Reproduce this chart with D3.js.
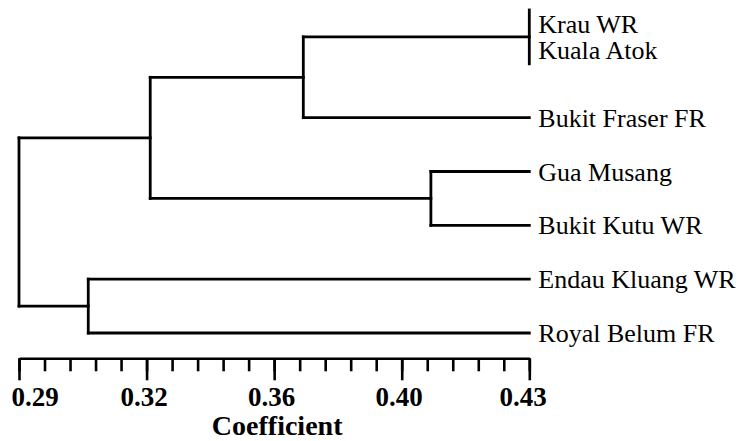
<!DOCTYPE html>
<html>
<head>
<meta charset="utf-8">
<script src="https://cdn.jsdelivr.net/npm/d3@7"></script>
<style>
    body { margin: 0; background: #fff; }
    svg { display: block; }
    text { font-family: "Liberation Serif", "Times New Roman", serif; fill: #000; }
</style>
</head>
<body>
<div id="chart"></div>
<script>
// leaves, top to bottom
var leaves = ["Krau WR", "Kuala Atok", "Bukit Fraser FR", "Gua Musang",
              "Bukit Kutu WR", "Endau Kluang WR", "Royal Belum FR"];
var leafCoef = 0.43;

// merge steps (like an hclust merge table): left, right, coefficient
var mergeLeft  = ["Krau WR",    "Gua Musang",    "Endau Kluang WR", "m1",              "m4",    "m5"];
var mergeRight = ["Kuala Atok", "Bukit Kutu WR", "Royal Belum FR",  "Bukit Fraser FR", "m2",    "m3"];
var mergeCoef  = [0.43,         0.403,           0.309,             0.368,             0.326,   0.29];

// axis
var axisMin = 0.29, axisMax = 0.43;
var majorTicks = [0.29, 0.325, 0.36, 0.395, 0.43];
var tickLabels = ["0.29", "0.32", "0.36", "0.40", "0.43"];
var minorStep = 0.007;
var xtitle = "Coefficient";

(function() {
    'use strict';

    var width = 740, height = 441;
    var left = 19, right = 529.3;
    var leafTop = 10, leafBottom = 333;
    var axisY = 358.3;

    var x = d3.scaleLinear().domain([axisMin, axisMax]).range([left, right]);

    // build the tree from the merge table
    var nodes = {};
    leaves.forEach(function(l) { nodes[l] = {name: l, coef: leafCoef}; });
    mergeCoef.forEach(function(c, i) {
        nodes["m" + (i + 1)] = {
            name: "m" + (i + 1),
            coef: c,
            children: [nodes[mergeLeft[i]], nodes[mergeRight[i]]]
        };
    });
    var root = d3.hierarchy(nodes["m" + mergeCoef.length]);

    d3.cluster()
        .size([1, 1])
        .separation(function() { return 1; })(root);

    // stretch so first and last leaf sit on leafTop / leafBottom
    var y = d3.scaleLinear()
        .domain(d3.extent(root.leaves(), function(d) { return d.x; }))
        .range([leafTop, leafBottom]);

    var svg = d3.select("#chart").append("svg")
        .attr("width", width)
        .attr("height", height);

    svg.append("rect")
        .attr("width", width)
        .attr("height", height)
        .attr("fill", "#fff");

    var g = svg.append("g");

    var segs = [];
    root.descendants().forEach(function(n) {
        if (!n.children) return;
        var first = n.children[0], last = n.children[n.children.length - 1];
        segs.push([x(n.data.coef), y(first.x), x(n.data.coef), y(last.x)]);
        n.children.forEach(function(c) {
            if (c.data.coef !== n.data.coef) {
                segs.push([x(n.data.coef), y(c.x), x(c.data.coef), y(c.x)]);
            }
        });
    });

    g.selectAll("line.branch")
        .data(segs)
        .enter().append("line")
        .attr("class", "branch")
        .attr("x1", function(d) { return d[0]; })
        .attr("y1", function(d) { return d[1]; })
        .attr("x2", function(d) { return d[2]; })
        .attr("y2", function(d) { return d[3]; })
        .attr("stroke", "#000")
        .attr("stroke-width", 2.8)
        .attr("stroke-linecap", "square");

    // leaf labels; tied leaves pulled halfway toward their joining node
    g.selectAll("text.leaf")
        .data(root.leaves())
        .enter().append("text")
        .attr("class", "leaf")
        .attr("x", function(d) { return x(d.data.coef) + 9; })
        .attr("y", function(d) {
            var p = d.parent;
            if (p && p.data.coef === d.data.coef) return y(d.x + (p.x - d.x) / 2);
            return y(d.x);
        })
        .attr("dy", "0.35em")
        .style("font-size", "26px")
        .text(function(d) { return d.data.name; });

    // axis: minor ticks, then major ticks with labels
    var minorTicks = d3.range(0, Math.round((axisMax - axisMin) / minorStep) + 1)
        .map(function(i) { return axisMin + i * minorStep; });

    var minorAxis = d3.axisBottom(x)
        .tickValues(minorTicks)
        .tickSize(13)
        .tickSizeOuter(0)
        .tickFormat("");

    var majorAxis = d3.axisBottom(x)
        .tickValues(majorTicks)
        .tickSize(22)
        .tickSizeOuter(0)
        .tickFormat(function(d, i) { return tickLabels[i]; });

    svg.append("g")
        .attr("transform", "translate(0," + axisY + ")")
        .call(minorAxis)
        .call(function(a) {
            a.selectAll("line, path").attr("stroke", "#000").attr("stroke-width", 2.6);
        });

    var ax = svg.append("g")
        .attr("transform", "translate(0," + axisY + ")")
        .call(majorAxis);
    ax.select(".domain").remove();
    ax.selectAll("line").attr("stroke", "#000").attr("stroke-width", 2.6);
    ax.selectAll("text")
        .attr("y", 29)
        .style("font-family", "'Liberation Serif', 'Times New Roman', serif")
        .style("font-size", "27px")
        .style("font-weight", "bold")
        .attr("fill", "#000")
        .attr("text-anchor", function(d, i) {
            return i === 0 ? "start" : (i === majorTicks.length - 1 ? "end" : "middle");
        })
        .attr("dx", function(d, i) {
            return i === 0 ? -8 : (i === majorTicks.length - 1 ? 17 : -3);
        });

    svg.append("text")
        .attr("x", (left + right) / 2 + 3)
        .attr("y", 435)
        .style("text-anchor", "middle")
        .style("font-size", "28px")
        .style("font-weight", "bold")
        .text(xtitle);
})();
</script>
</body>
</html>
